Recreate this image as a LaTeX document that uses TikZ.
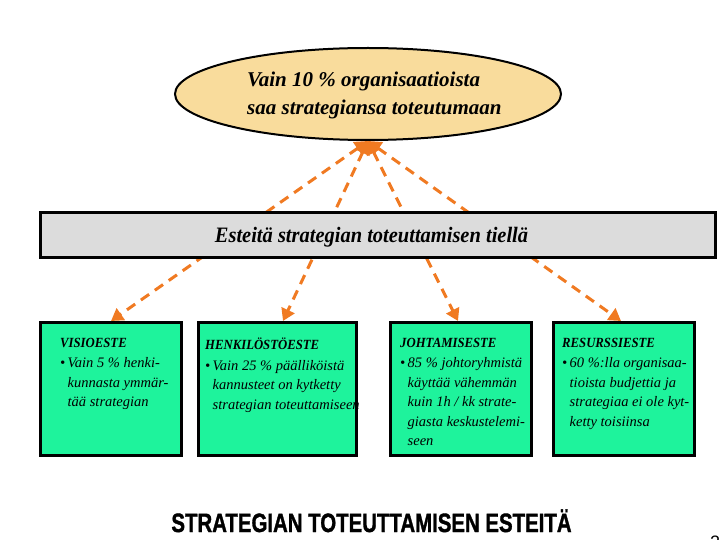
\documentclass[tikz,border=0pt]{standalone}
\usepackage{fontspec}
\setmainfont{Liberation Serif}
\newfontfamily\titlefont[BoldFeatures={FakeBold=1.5}]{Liberation Sans}
\usetikzlibrary{arrows.meta,shapes.geometric}
\definecolor{arrowc}{HTML}{F07A22}
\definecolor{ellfill}{HTML}{F9DC9C}
\definecolor{barfill}{HTML}{DCDCDC}
\definecolor{boxfill}{HTML}{1EF39C}
\tikzset{
  obst/.style={draw=black, line width=3pt, fill=boxfill, minimum height=133pt, inner sep=0pt},
  conn/.style={draw=arrowc, line width=3pt, dash pattern=on 10pt off 7pt, {Triangle[length=13pt,width=15pt]}-{Triangle[length=12pt,width=14pt]}},
  btext/.style={anchor=north west, align=left, inner sep=0pt, font=\fontsize{14.5}{19.5}\selectfont\itshape},
  etext/.style={anchor=base west, inner sep=0pt, font=\fontsize{21}{28}\selectfont\bfseries\itshape},
}
\newcommand{\bhead}[1]{\scalebox{0.91}[1]{\fontsize{14}{19.5}\selectfont\bfseries #1}}
\newcommand{\ind}{\phantom{\textbullet\,}}
\begin{document}
\begin{tikzpicture}[x=1pt,y=-1pt]
\clip (0,0) rectangle (720,540);
\useasboundingbox (0,0) rectangle (720,540);

\node[ellipse, draw=black, line width=2pt, fill=ellfill, minimum width=386pt, minimum height=92pt, inner sep=0pt] (ell) at (368,94) {};
\node[etext] (e1) at (247,87) {Vain 10 \% organisaatioista};
\node[etext] (e2) at (247,115) {saa strategiansa toteutumaan};

\node[obst, minimum width=141pt] (b1) at (111,389) {};
\node[obst, minimum width=158pt] (b2) at (277,389) {};
\node[obst, minimum width=141pt] (b3) at (461,389) {};
\node[obst, minimum width=141pt] (b4) at (624,389) {};

\draw[conn] (ell.south) -- (b1.north);
\draw[conn] (ell.south) -- ([xshift=6pt]b2.north);
\draw[conn] (ell.south) -- ([xshift=-3pt]b3.north);
\draw[conn] (ell.south) -- ([xshift=-3pt]b4.north);

\node[draw=black, line width=3pt, fill=barfill, minimum width=675pt, minimum height=45pt, inner sep=0pt] (bar) at (377.5,235) {};
\node[font=\fontsize{22}{24}\selectfont\bfseries\itshape, inner sep=0pt, anchor=base] (bartxt) at (371.5,242) {\scalebox{0.93}[1]{Esteitä strategian toteuttamisen tiellä}};

\node[btext] (t1) at (60,338) {\bhead{VISIOESTE}\\[1pt]\textbullet\,Vain 5 \% henki-\\\ind kunnasta ymmär-\\\ind tää strategian};
\node[btext] (t2) at (205,338) {\bhead{HENKILÖSTÖESTE}\\[1pt]\textbullet\,Vain 25 \% päälliköistä\\\ind kannusteet on kytketty\\\ind strategian toteuttamiseen};
\node[btext] (t3) at (400,338) {\bhead{JOHTAMISESTE}\\[1pt]\textbullet\,85 \% johtoryhmistä\\\ind käyttää vähemmän\\\ind kuin 1h / kk strate-\\\ind giasta keskustelemi-\\\ind seen};
\node[btext] (t4) at (562,338) {\bhead{RESURSSIESTE}\\[1pt]\textbullet\,60 \%:lla organisaa-\\\ind tioista budjettia ja\\\ind strategiaa ei ole kyt-\\\ind ketty toisiinsa};

\node[font=\titlefont\fontsize{26.5}{28}\selectfont\bfseries, anchor=base, inner sep=0pt] (title) at (371.5,532) {\scalebox{0.77}[1]{STRATEGIAN TOTEUTTAMISEN ESTEITÄ}};
\node[font=\titlefont\fontsize{18}{20}\selectfont, anchor=base west, inner sep=0pt] (pg) at (710,548) {2};
\end{tikzpicture}
\end{document}
